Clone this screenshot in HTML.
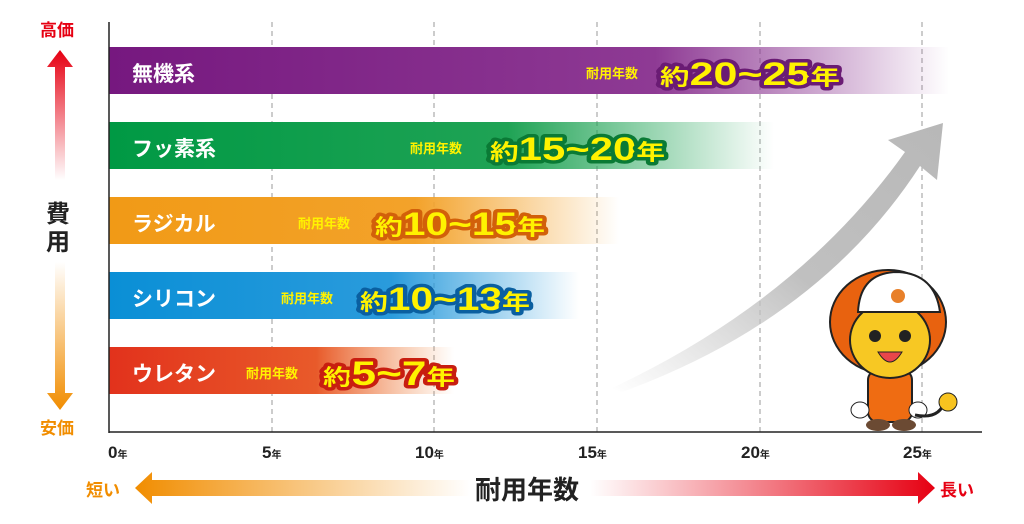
<!DOCTYPE html>
<html><head><meta charset="utf-8"><style>
html,body{margin:0;padding:0;background:#fff;}
svg{display:block;}
text{font-family:"Liberation Sans","Noto Sans CJK JP",sans-serif;font-weight:bold;}
.big{paint-order:stroke;stroke-linejoin:round;fill:#fff200;}
</style></head><body>
<svg width="1024" height="524" viewBox="0 0 1024 524" xmlns="http://www.w3.org/2000/svg">
<defs>
<linearGradient id="gp" x1="0" x2="1"><stop offset="0" stop-color="#76187f"/><stop offset="0.65" stop-color="#8e3a94"/><stop offset="1" stop-color="#8e3a94" stop-opacity="0"/></linearGradient>
<linearGradient id="gg" x1="0" x2="1"><stop offset="0" stop-color="#009944"/><stop offset="0.6" stop-color="#1fa355"/><stop offset="1" stop-color="#1fa355" stop-opacity="0"/></linearGradient>
<linearGradient id="go" x1="0" x2="1"><stop offset="0" stop-color="#f19a16"/><stop offset="0.6" stop-color="#f3a22a"/><stop offset="1" stop-color="#f3a22a" stop-opacity="0"/></linearGradient>
<linearGradient id="gb" x1="0" x2="1"><stop offset="0" stop-color="#0a8fd6"/><stop offset="0.6" stop-color="#2a9bdc"/><stop offset="1" stop-color="#2a9bdc" stop-opacity="0"/></linearGradient>
<linearGradient id="gr" x1="0" x2="1"><stop offset="0" stop-color="#e2321c"/><stop offset="0.6" stop-color="#e85a2a"/><stop offset="1" stop-color="#f08a40" stop-opacity="0"/></linearGradient>
<linearGradient id="vup" x1="0" y1="0" x2="0" y2="1"><stop offset="0" stop-color="#e60012"/><stop offset="1" stop-color="#e60012" stop-opacity="0"/></linearGradient>
<linearGradient id="vdn" x1="0" y1="0" x2="0" y2="1"><stop offset="0" stop-color="#f18d00" stop-opacity="0"/><stop offset="1" stop-color="#f18d00"/></linearGradient>
<linearGradient id="hl" x1="0" x2="1"><stop offset="0" stop-color="#f18d00"/><stop offset="1" stop-color="#f18d00" stop-opacity="0"/></linearGradient>
<linearGradient id="hr" x1="0" x2="1"><stop offset="0" stop-color="#e60012" stop-opacity="0"/><stop offset="1" stop-color="#e60012"/></linearGradient>
<linearGradient id="ga" x1="0" y1="1" x2="1" y2="0"><stop offset="0" stop-color="#c8c8c8" stop-opacity="0"/><stop offset="0.5" stop-color="#c0c0c0"/><stop offset="1" stop-color="#b8b8b8"/></linearGradient>
</defs>
<g stroke="#999" stroke-width="1" stroke-dasharray="5,4">
<line x1="272" y1="22" x2="272" y2="432"/><line x1="434" y1="22" x2="434" y2="432"/>
<line x1="597" y1="22" x2="597" y2="432"/><line x1="760" y1="22" x2="760" y2="432"/>
<line x1="922" y1="22" x2="922" y2="432"/>
</g>
<rect x="109" y="47" width="840" height="47" fill="url(#gp)"/>
<rect x="109" y="122" width="665" height="47" fill="url(#gg)"/>
<rect x="109" y="197" width="510" height="47" fill="url(#go)"/>
<rect x="109" y="272" width="470" height="47" fill="url(#gb)"/>
<rect x="109" y="347" width="345" height="47" fill="url(#gr)"/>
<path d="M612,388 Q800,300 905,152 L888,140 L943,123 L937,180 L920,166 Q820,320 622,392 Z" fill="url(#ga)"/>
<line x1="109" y1="22" x2="109" y2="433" stroke="#222" stroke-width="1.5"/>
<line x1="109" y1="432" x2="982" y2="432" stroke="#222" stroke-width="1.5"/>
<g fill="#fff" font-size="21">
<text x="132" y="81">無機系</text><text x="132" y="156">フッ素系</text>
<text x="132" y="231">ラジカル</text><text x="132" y="306">シリコン</text>
<text x="132" y="381">ウレタン</text>
</g>
<g font-size="13" fill="#fff200">
<text x="586" y="78">耐用年数</text><text x="410" y="153">耐用年数</text>
<text x="298" y="228">耐用年数</text><text x="281" y="303">耐用年数</text>
<text x="246" y="378">耐用年数</text>
</g>
<text class="big" x="660" y="85" stroke="#6a1b74" stroke-width="7" textLength="180" lengthAdjust="spacingAndGlyphs"><tspan font-size="22">約</tspan><tspan font-size="32">20~25</tspan><tspan font-size="22">年</tspan></text>
<text class="big" x="490" y="160" stroke="#0a7a35" stroke-width="7" textLength="175" lengthAdjust="spacingAndGlyphs"><tspan font-size="22">約</tspan><tspan font-size="32">15~20</tspan><tspan font-size="22">年</tspan></text>
<text class="big" x="375" y="235" stroke="#d2600a" stroke-width="7" textLength="170" lengthAdjust="spacingAndGlyphs"><tspan font-size="22">約</tspan><tspan font-size="32">10~15</tspan><tspan font-size="22">年</tspan></text>
<text class="big" x="360" y="310" stroke="#0a5fa0" stroke-width="7" textLength="170" lengthAdjust="spacingAndGlyphs"><tspan font-size="22">約</tspan><tspan font-size="32">10~13</tspan><tspan font-size="22">年</tspan></text>
<text class="big" x="323" y="385" stroke="#c81e10" stroke-width="7" textLength="132" lengthAdjust="spacingAndGlyphs"><tspan font-size="22">約</tspan><tspan font-size="34">5~7</tspan><tspan font-size="22">年</tspan></text>
<text x="40" y="36" font-size="17" fill="#e60012">高価</text>
<polygon points="60,50 47,67 55,67 55,180 65,180 65,67 73,67" fill="url(#vup)"/>
<text x="46" y="222" font-size="24" fill="#222">費</text>
<text x="46" y="250" font-size="24" fill="#222">用</text>
<polygon points="55,262 65,262 65,393 73,393 60,410 47,393 55,393" fill="url(#vdn)"/>
<text x="40" y="434" font-size="17" fill="#f18d00">安価</text>
<g font-size="17" fill="#222">
<text x="108" y="458">0<tspan font-size="10">年</tspan></text>
<text x="262" y="458">5<tspan font-size="10">年</tspan></text>
<text x="415" y="458">10<tspan font-size="10">年</tspan></text>
<text x="578" y="458">15<tspan font-size="10">年</tspan></text>
<text x="741" y="458">20<tspan font-size="10">年</tspan></text>
<text x="903" y="458">25<tspan font-size="10">年</tspan></text>
</g>
<text x="86" y="496" font-size="17" fill="#f18d00">短い</text>
<polygon points="135,488 152,472 152,480 470,480 470,496 152,496 152,504" fill="url(#hl)"/>
<polygon points="935,488 918,472 918,480 590,480 590,496 918,496 918,504" fill="url(#hr)"/>
<text x="475" y="499" font-size="26" fill="#222">耐用年数</text>
<text x="940" y="496" font-size="17" fill="#e60012">長い</text>
<g>
<ellipse cx="888" cy="322" rx="58" ry="52" fill="#e8620f" stroke="#222" stroke-width="2"/>
<rect x="868" y="370" width="44" height="52" rx="10" fill="#ef6c12" stroke="#222" stroke-width="2"/>
<ellipse cx="860" cy="410" rx="9" ry="8" fill="#fff" stroke="#222"/>
<ellipse cx="918" cy="410" rx="9" ry="8" fill="#fff" stroke="#222"/>
<ellipse cx="878" cy="425" rx="12" ry="6" fill="#6b4a33"/>
<ellipse cx="904" cy="425" rx="12" ry="6" fill="#6b4a33"/>
<path d="M915,415 Q940,420 945,400" stroke="#222" stroke-width="3" fill="none"/>
<circle cx="948" cy="402" r="9" fill="#f7c31f" stroke="#222"/>
<ellipse cx="890" cy="340" rx="40" ry="38" fill="#f7c823" stroke="#222" stroke-width="2"/>
<path d="M858,312 Q860,272 898,272 Q935,274 940,312 Z" fill="#fff" stroke="#222" stroke-width="2"/>
<circle cx="898" cy="296" r="7" fill="#e8802a"/>
<circle cx="875" cy="336" r="6" fill="#222"/><circle cx="905" cy="336" r="6" fill="#222"/>
<path d="M878,352 Q890,372 902,352 Z" fill="#e8464a" stroke="#222"/>
</g>
</svg>
</body></html>
